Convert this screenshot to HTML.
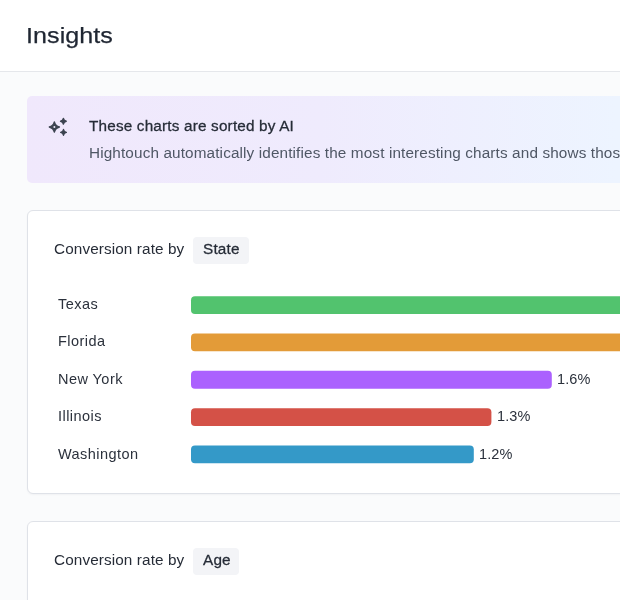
<!DOCTYPE html>
<html>
<head>
<meta charset="utf-8">
<style>
* { box-sizing: border-box; margin: 0; padding: 0; }
html, body { width: 620px; height: 600px; overflow: hidden; }
body {
  font-family: "Liberation Sans", sans-serif;
  background: #fafbfc;
  color: #252b36;
  position: relative;
}
.a { position: absolute; white-space: nowrap; will-change: transform; }
.header {
  position: absolute; left: 0; top: 0; width: 620px; height: 71.5px;
  background: #ffffff;
  border-bottom: 1px solid #e5e7eb;
}
.h1 {
  left: 26.4px; top: 21.2px;
  font-size: 22.5px; line-height: 30px; letter-spacing: 0.05px;
  transform: scaleX(1.115); transform-origin: 0 0; -webkit-text-stroke: 0.25px currentColor;
  color: #1f2632;
}
.banner {
  position: absolute; left: 27px; top: 96px; width: 700px; height: 87px;
  border-radius: 5px;
  background: linear-gradient(90deg, #f0e8fc 0px, #efebfd 293px, #edf4ff 590px);
}
.t14 { font-size: 14.5px; line-height: 17px; }
.med { -webkit-text-stroke: 0.28px currentColor; }
.t1 { left: 89px; top: 117.4px; font-size: 15.3px; letter-spacing: 0.18px; color: #262c37; }
.t2 { left: 89px; top: 144px; font-size: 15.3px; letter-spacing: 0.13px; color: #4f5765; }
.card {
  position: absolute; left: 27px; width: 700px;
  background: #ffffff;
  box-shadow: 0 1px 2px rgba(16,24,40,0.04);
  border: 1px solid #dfe2e8;
  border-radius: 6px;
}
.card1 { top: 210px; height: 284px; }
.card2 { top: 521px; height: 200px; }
.ctitle { left: 53.5px; font-size: 15.3px; letter-spacing: 0.11px; color: #262c37; }
.pill {
  position: absolute; left: 193.3px; height: 26.7px;
  background: #f3f4f7; border-radius: 4px;
}
.ptxt { font-size: 15.3px; letter-spacing: 0.2px; color: #262c37; }
.lbl { left: 58px; letter-spacing: 0.45px; color: #2b313c; }
.bar { position: absolute; left: 191px; height: 17.8px; border-radius: 4px; }
.val { letter-spacing: 0.1px; color: #2b313c; }
</style>
</head>
<body>
<div class="header"></div>
<div class="a h1">Insights</div>

<div class="banner"></div>
<svg class="a" style="left:44px;top:114px" width="28" height="26" viewBox="44 114 28 26">
  <g fill="#3d4451" stroke="#3d4451" stroke-width="1.4" stroke-linejoin="round">
  <path d="M54.35 121.90 Q55.40 125.90 59.40 126.95 Q55.40 128.00 54.35 132.00 Q53.30 128.00 49.30 126.95 Q53.30 125.90 54.35 121.90 Z"/>
  <path d="M63.40 118.40 Q63.80 120.85 66.25 121.25 Q63.80 121.65 63.40 124.10 Q63.00 121.65 60.55 121.25 Q63.00 120.85 63.40 118.40 Z"/>
  <path d="M63.50 129.55 Q63.90 132.00 66.35 132.40 Q63.90 132.80 63.50 135.25 Q63.10 132.80 60.65 132.40 Q63.10 132.00 63.50 129.55 Z"/>
  </g>
  <circle cx="54.4" cy="126.9" r="1.0" fill="#efe9fc"/>
</svg>
<div class="a t14 med t1">These charts are sorted by AI</div>
<div class="a t14 t2">Hightouch automatically identifies the most interesting charts and shows those first</div>

<div class="card card1"></div>
<div class="a t14 ctitle" style="top:239.6px">Conversion rate by</div>
<div class="pill" style="top:237.1px;width:55.5px"></div>
<div class="a t14 med ptxt" style="left:202.5px;top:239.5px">State</div>

<svg class="bars" style="position:absolute;left:0;top:0" width="620" height="600" viewBox="0 0 620 600">
  <rect x="191" y="296.20" width="509.00" height="17.8" rx="4" fill="#52c36e"/>
  <rect x="191" y="333.53" width="509.00" height="17.8" rx="4" fill="#e39b38"/>
  <rect x="191" y="370.86" width="360.80" height="17.8" rx="4" fill="#ab61fe"/>
  <rect x="191" y="408.19" width="300.40" height="17.8" rx="4" fill="#d45147"/>
  <rect x="191" y="445.52" width="282.80" height="17.8" rx="4" fill="#3499c8"/>
</svg>
<div class="a t14 lbl" style="top:295.5px">Texas</div>
<div class="a t14 lbl" style="top:333px">Florida</div>
<div class="a t14 lbl" style="top:370.5px">New York</div>
<div class="a t14 val" style="left:556.7px;top:370.5px">1.6%</div>
<div class="a t14 lbl" style="top:408px">Illinois</div>
<div class="a t14 val" style="left:496.7px;top:408px">1.3%</div>
<div class="a t14 lbl" style="top:445.5px">Washington</div>
<div class="a t14 val" style="left:478.7px;top:445.5px">1.2%</div>

<div class="card card2"></div>
<div class="a t14 ctitle" style="top:551.2px">Conversion rate by</div>
<div class="pill" style="top:548px;width:45.8px"></div>
<div class="a t14 med ptxt" style="left:202.5px;top:550.8px">Age</div>
</body>
</html>
